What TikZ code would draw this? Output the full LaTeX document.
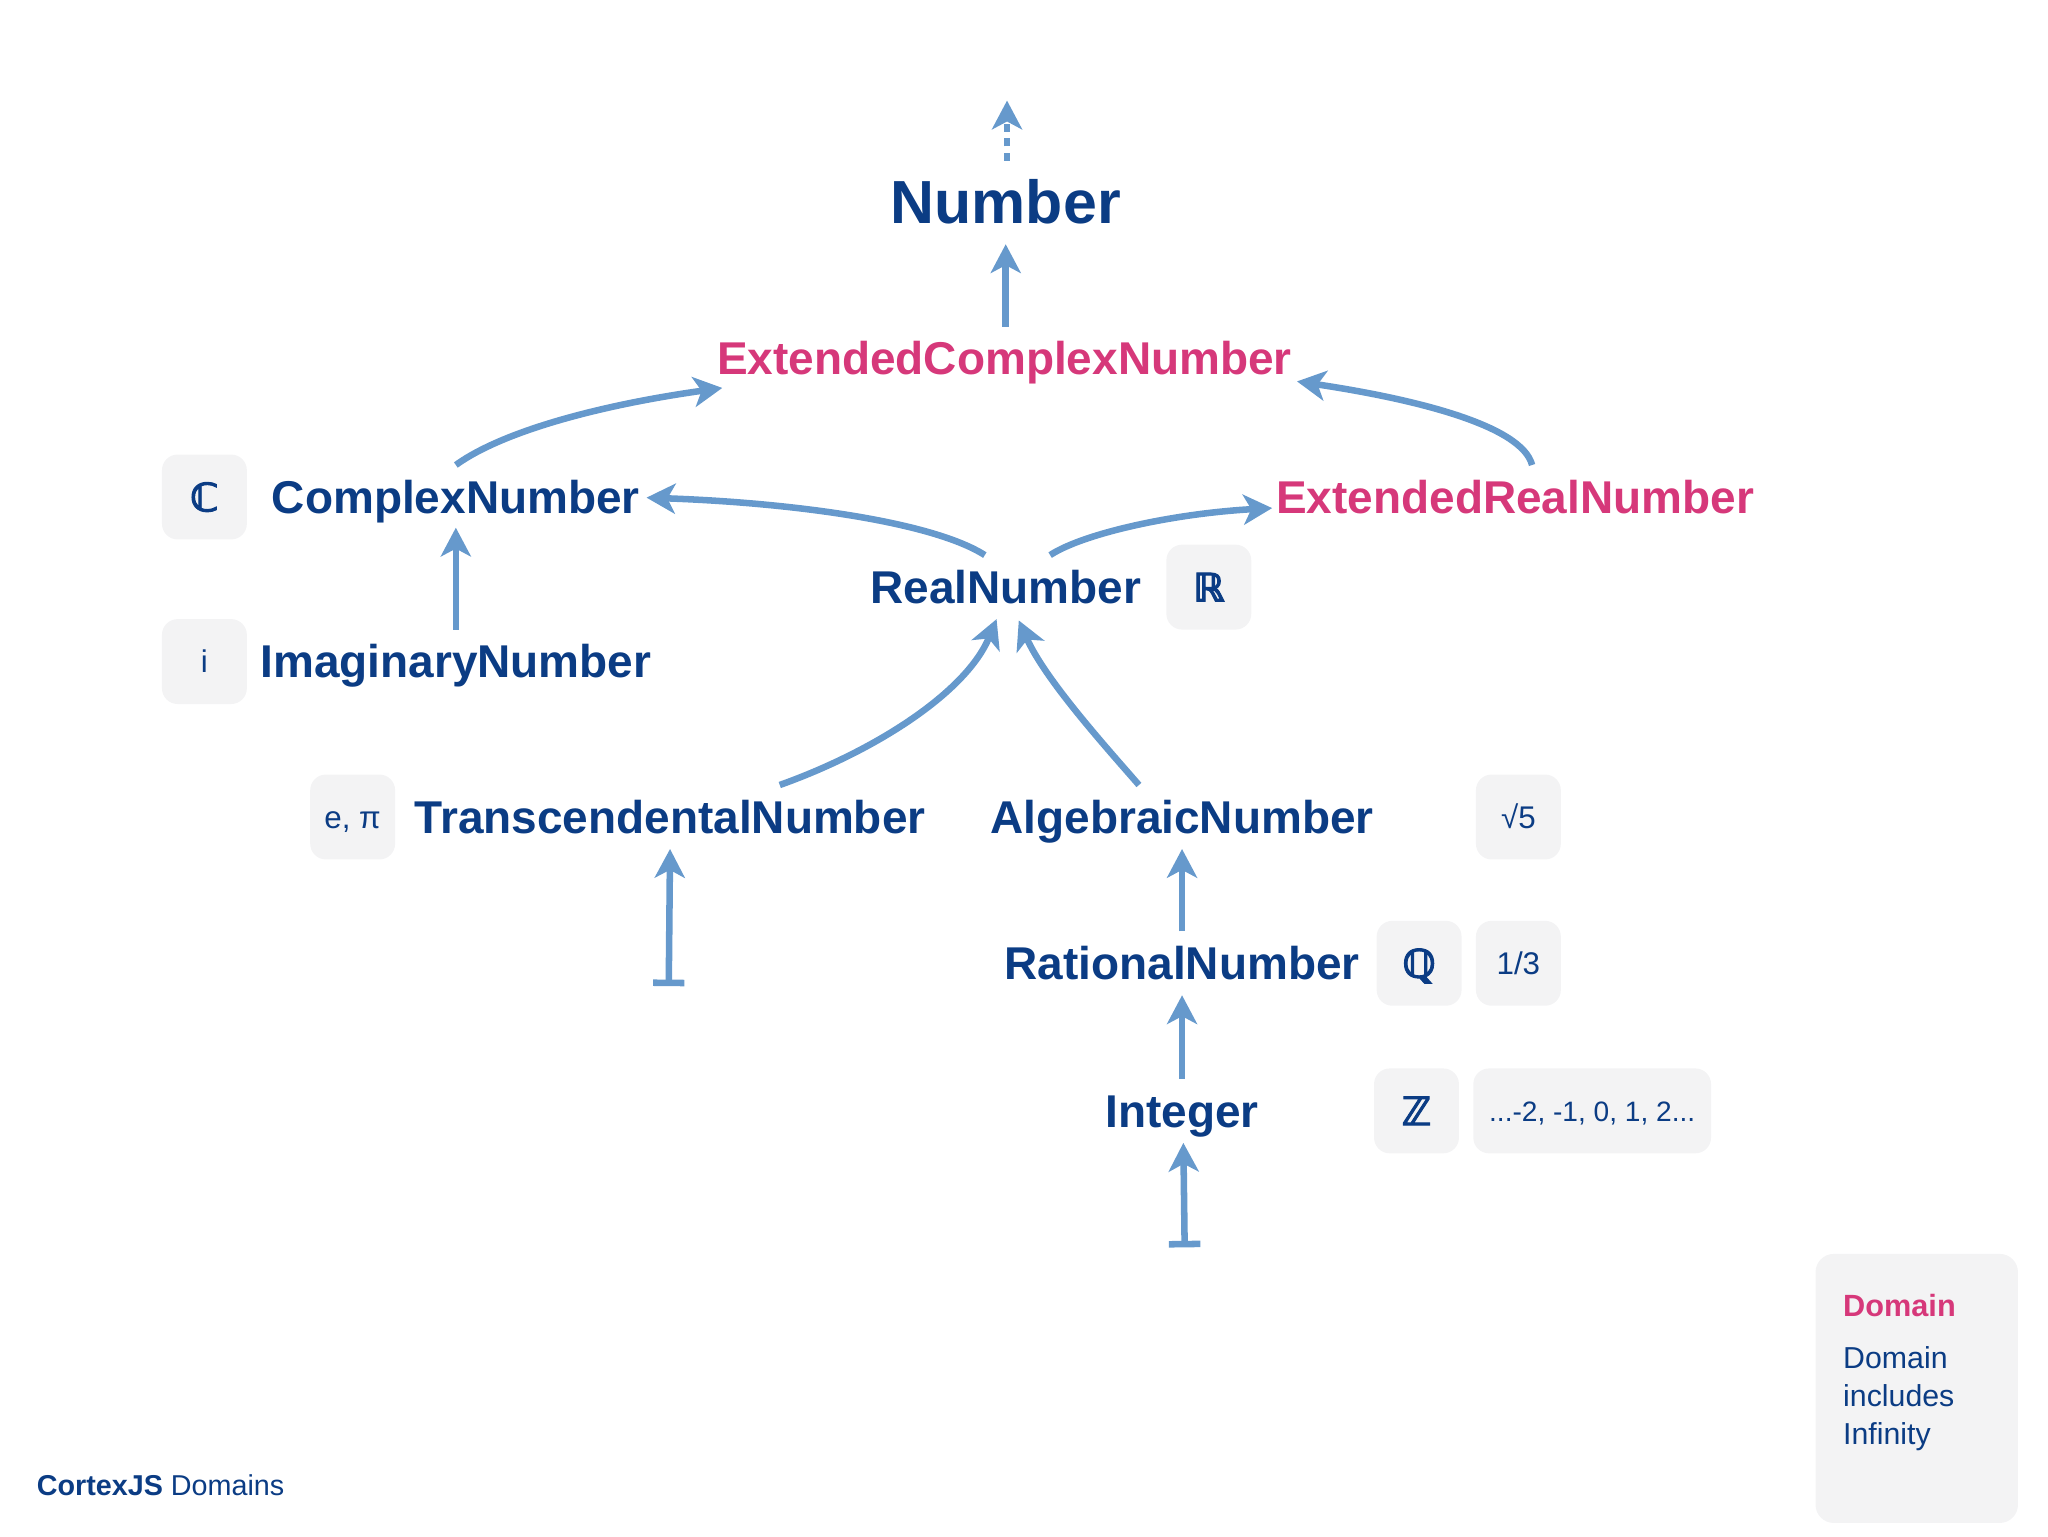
\documentclass[tikz,border=0pt]{standalone}
\usepackage{fontspec}
\setmainfont{Liberation Sans}
\newfontfamily\dvs[FakeBold=2.5]{DejaVu Sans}
\usetikzlibrary{arrows.meta}
\definecolor{navy}{HTML}{0B3C84}
\definecolor{pinkc}{HTML}{D6387A}
\definecolor{arrowblue}{HTML}{6699CC}
\definecolor{boxgray}{HTML}{F3F3F4}
\begin{document}
\begin{tikzpicture}[x=1pt,y=-1pt,
  lbl/.style={anchor=base, inner sep=0pt, text=navy, font=\bfseries\fontsize{35.2}{40}\selectfont},
  plbl/.style={lbl, text=pinkc},
  sbox/.style={fill=boxgray, rounded corners=12pt, minimum width=65pt, minimum height=65pt, inner sep=0pt, text=navy, text height=17pt, text depth=0pt, font=\fontsize{24}{26}\selectfont},
  dsbox/.style={sbox, text height=22pt, font=\dvs\bfseries\fontsize{30}{32}\selectfont},
  arr/.style={draw=arrowblue, line width=5pt, -{Stealth[length=22pt,width=23pt,inset=6pt]}},
  barr/.style={draw=arrowblue, line width=5pt, {Bar[width=24pt]}-{Stealth[length=22pt,width=23pt,inset=6pt]}},
  legtxt/.style={anchor=base west, inner sep=0pt, text=navy, font=\fontsize{23.2}{29}\selectfont}
]
\useasboundingbox (0,0) rectangle (1568,1176);

% main labels
\node[lbl, font=\bfseries\fontsize{46.6}{52}\selectfont] (Num) at (770,171) {Number};
\node[plbl] (ECN) at (769,287) {ExtendedComplexNumber};
\node[lbl] (CN) at (349,393) {ComplexNumber};
\node[plbl] (ERN) at (1160,393) {ExtendedRealNumber};
\node[lbl] (RN) at (770,462) {RealNumber};
\node[lbl] (IN) at (349,519) {ImaginaryNumber};
\node[lbl] (TN) at (513,638) {TranscendentalNumber};
\node[lbl] (AN) at (905,638) {AlgebraicNumber};
\node[lbl] (QN) at (905,750) {RationalNumber};
\node[lbl] (ZN) at (905,863) {Integer};

% symbol boxes
\node[dsbox] (bC) at (156.5,380.5) {ℂ};
\node[sbox] (bi) at (156.5,506.5) {i};
\node[dsbox] (bR) at (925.5,449.5) {ℝ};
\node[sbox] (bep) at (270,625.5) {e, π};
\node[sbox] (bsq) at (1162.5,625.5) {√5};
\node[dsbox] (bQ) at (1086.5,737.5) {ℚ};
\node[sbox] (bq) at (1162.5,737.5) {1/3};
\node[dsbox] (bZ) at (1084.5,850.5) {ℤ};
\node[sbox, minimum width=182pt, font=\fontsize{21.5}{24}\selectfont] (bz) at (1219,850.5) {...-2, -1, 0, 1, 2...};

% free ends
\coordinate (topEnd) at (771,77);
\coordinate (barT) at (512,755);
\coordinate (barZ) at (907,955);

% connectors
\draw[arr, dash pattern=on 6pt off 5pt] ([shift={(1,-48)}]Num.base) -- (topEnd);
\draw[arr] ([shift={(1,-37)}]ECN.base) -- ([shift={(0,16)}]Num.base);
\draw[arr] ([shift={(0,-37)}]CN.base) .. controls (385,330) and (460,310) .. ([shift={(-216,10)}]ECN.base);
\draw[arr] ([shift={(13,-37)}]ERN.base) .. controls (1165,325) and (1080,305) .. ([shift={(224,5)}]ECN.base);
\draw[arr] ([shift={(-16,-37)}]RN.base) .. controls (715,400) and (610,385) .. ([shift={(146,-12)}]CN.base);
\draw[arr] ([shift={(34,-37)}]RN.base) .. controls (830,408) and (900,393) .. ([shift={(-186,-4)}]ERN.base);
\draw[arr] ([shift={(0,-37)}]IN.base) -- ([shift={(0,11)}]CN.base);
\draw[arr] ([shift={(84,-37)}]TN.base) .. controls (670,575) and (740,530) .. ([shift={(-7,12)}]RN.base);
\draw[arr] ([shift={(-33,-37)}]AN.base) .. controls (845,570) and (800,520) .. ([shift={(10,13)}]RN.base);
\draw[barr] (barT) -- ([shift={(0,12)}]TN.base);
\draw[arr] ([shift={(0,-37)}]QN.base) -- ([shift={(0,12)}]AN.base);
\draw[arr] ([shift={(0,-37)}]ZN.base) -- ([shift={(0,12)}]QN.base);
\draw[barr] (barZ) -- ([shift={(1,12)}]ZN.base);

% legend
\node[fill=boxgray, rounded corners=14pt, minimum width=155pt, minimum height=206pt, inner sep=0pt] (leg) at (1467.5,1063) {};
\node[legtxt, text=pinkc, font=\bfseries\fontsize{23.5}{29}\selectfont] (legT) at (1411,1008) {Domain};
\node[legtxt] (leg1) at (1411,1048) {Domain};
\node[legtxt] (leg2) at (1411,1077) {includes};
\node[legtxt] (leg3) at (1411,1106) {Infinity};

% footer
\node[legtxt, font=\fontsize{22}{26}\selectfont] (foot) at (28,1145) {\textbf{CortexJS} Domains};
\end{tikzpicture}
\end{document}
